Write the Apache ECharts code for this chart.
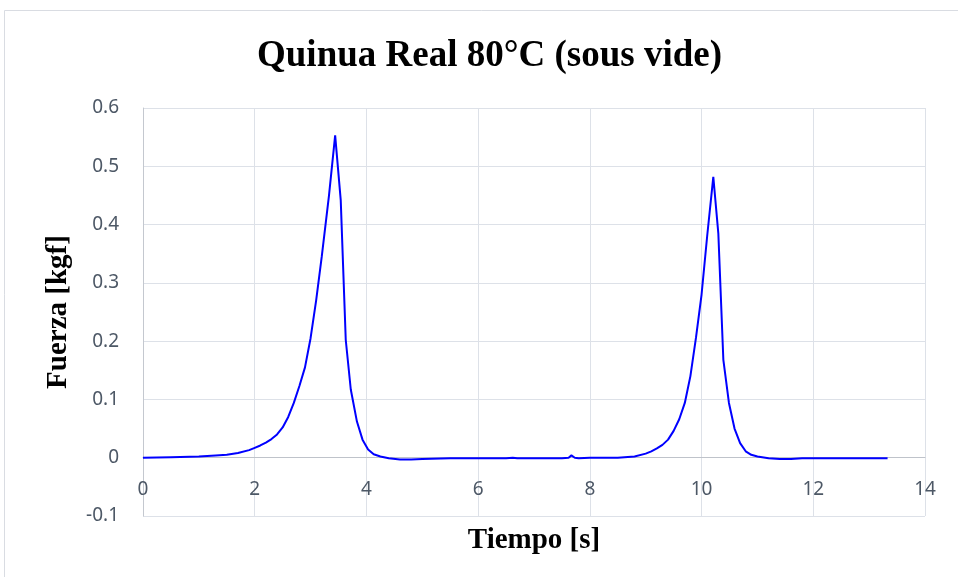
<!DOCTYPE html>
<html>
<head>
<meta charset="utf-8">
<script src="https://cdn.jsdelivr.net/npm/echarts@6/dist/echarts.min.js"></script>
<style>html,body{margin:0;padding:0;background:#fff}#chart{width:958px;height:577px}</style>
</head>
<body>
<div id="chart"></div>
<script>
const chartTitle = 'Quinua Real 80°C (sous vide)';
const xName = 'Tiempo [s]';
const yName = 'Fuerza [kgf]';
const time = [0,0.5,1.0,1.3,1.5,1.7,1.9,2.0,2.1,2.2,2.3,2.4,2.5,2.6,2.7,2.8,2.9,3.0,3.1,3.2,3.33,3.44,3.54,3.63,3.72,3.83,3.93,4.03,4.13,4.25,4.4,4.6,4.8,5.0,5.5,6.0,6.5,6.62,6.7,7.0,7.5,7.62,7.67,7.73,7.8,8.0,8.5,8.8,9.0,9.1,9.2,9.3,9.4,9.5,9.6,9.7,9.8,9.9,10.0,10.1,10.21,10.30,10.39,10.49,10.59,10.69,10.79,10.89,11.0,11.2,11.4,11.6,11.8,12.0,12.5,13.0,13.33];
const force = [0,0.001,0.002,0.004,0.005,0.008,0.013,0.017,0.021,0.026,0.032,0.040,0.052,0.070,0.094,0.123,0.155,0.205,0.27,0.345,0.45,0.553,0.442,0.202,0.117,0.062,0.031,0.014,0.006,0.002,-0.001,-0.003,-0.003,-0.002,-0.001,-0.001,-0.001,0.0,-0.001,-0.001,-0.001,0.0,0.004,0.0,-0.001,0.0,0.0,0.002,0.007,0.011,0.016,0.022,0.031,0.046,0.066,0.094,0.14,0.206,0.28,0.38,0.482,0.385,0.168,0.094,0.05,0.025,0.011,0.005,0.002,-0.001,-0.002,-0.002,-0.001,-0.001,-0.001,-0.001,-0.001];
const xTicks = {min:0, max:14, interval:2};
const yTicks = {min:-0.1, max:0.6, interval:0.1};

const gridTop = 108, gridBottom = 61, chartH = 577;
const plotH = chartH - gridTop - gridBottom;
// distance from bottom of plot up to the y=0 line, derived from the y scale
const zeroOffset = plotH * (0 - yTicks.min) / (yTicks.max - yTicks.min);

const chart = echarts.init(document.getElementById('chart'), null, {renderer:'canvas'});
const gridColor = '#dde1e8';
const labelColor = '#4d5866';
chart.setOption({
  animation:false,
  backgroundColor:'#fff',
  graphic:[{type:'rect', shape:{x:4.5,y:10.5,width:960,height:580}, style:{fill:'none', stroke:'#d9dce2', lineWidth:1}, silent:true}],
  title:{text:chartTitle, left:252, top:33, textStyle:{fontFamily:'Liberation Serif', fontWeight:'bold', fontSize:37, color:'#000'}},
  grid:{left:143, right:33, top:gridTop, bottom:gridBottom, outerBoundsMode:'none', containLabel:false},
  xAxis:{type:'value', min:xTicks.min, max:xTicks.max, interval:xTicks.interval,
    position:'bottom', offset:-zeroOffset,
    name:xName, nameLocation:'middle', nameGap:10 + zeroOffset,
    nameTextStyle:{fontFamily:'Liberation Serif', fontWeight:'bold', fontSize:29, color:'#000'},
    axisLine:{show:true, onZero:false, lineStyle:{color:'#bfc3ca', width:1}},
    axisTick:{show:false},
    axisLabel:{margin:22, fontFamily:'Noto Sans', fontSize:19, color:labelColor},
    splitLine:{show:true, lineStyle:{color:gridColor, width:1}}},
  yAxis:{type:'value', min:yTicks.min, max:yTicks.max, interval:yTicks.interval,
    name:yName, nameLocation:'middle', nameGap:70, nameRotate:90,
    nameTextStyle:{fontFamily:'Liberation Serif', fontWeight:'bold', fontSize:29, color:'#000'},
    axisLine:{show:true, onZero:false, lineStyle:{color:'#c4c8cf', width:1}},
    axisTick:{show:false},
    axisLabel:{margin:24, fontFamily:'Noto Sans', fontSize:19, color:labelColor,
      formatter:v=>String(Math.round(v*10)/10)},
    splitLine:{show:true, lineStyle:{color:gridColor, width:1}}},
  series:[{type:'line', data:time.map((t,i)=>[t,force[i]]), showSymbol:false, symbol:'none',
    lineStyle:{color:'#0000ff', width:2}, z:3}]
});
</script>
</body>
</html>
